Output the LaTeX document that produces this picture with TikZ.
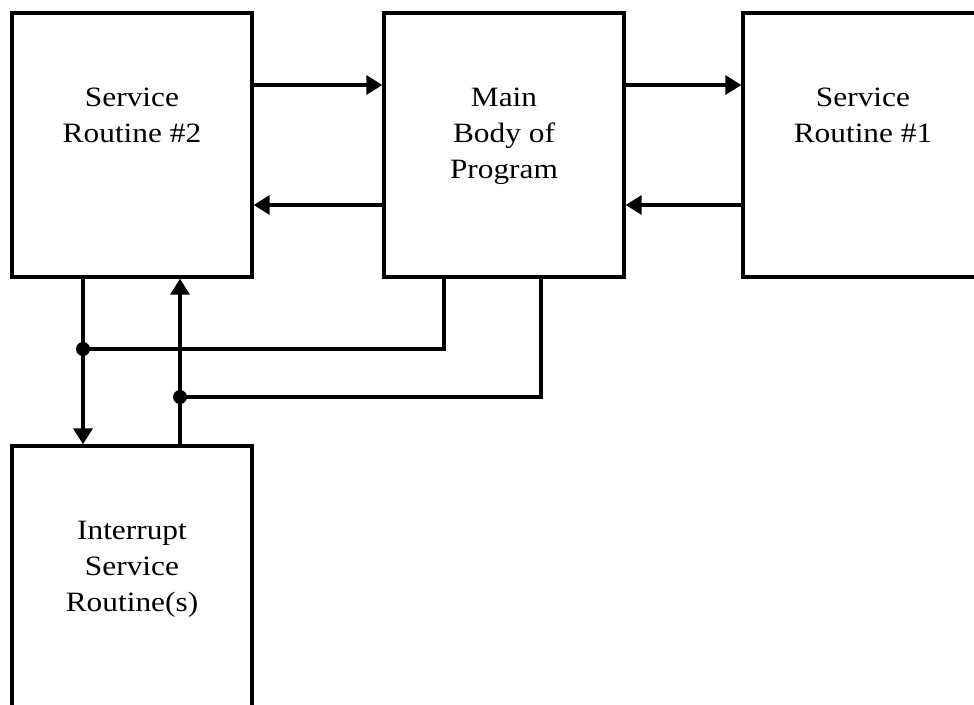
\documentclass[tikz,border=0pt]{standalone}
\usepackage{fontspec}
\setmainfont{Liberation Serif}[FakeStretch=1.12]
\usetikzlibrary{arrows.meta,calc}
\newcommand{\boxtext}[1]{\parbox[c][264pt][t]{240pt}{\centering\vspace*{75pt}#1\par}}
\begin{document}
\begin{tikzpicture}[x=1pt,y=1pt,
  box/.style={draw, line width=3.3pt, rectangle, inner sep=0pt,
    minimum width=240pt, minimum height=264pt,
    font=\fontsize{28}{36}\selectfont},
  conn/.style={line width=3.3pt},
  arr/.style={conn, -{Triangle[length=16pt,width=19pt]}},
  dot/.style={fill=black}]
\useasboundingbox (0,0) rectangle (974,-704);
\node[box] (sr2) at (132,-145) {\boxtext{Service\\Routine \#2}};
\node[box] (main) at (504,-145) {\boxtext{Main\\Body of\\Program}};
\node[box] (sr1) at (863,-145) {\boxtext{Service\\Routine \#1}};
\node[box] (isr) at (132,-578) {\boxtext{Interrupt\\Service\\Routine(s)}};
% horizontal arrows
\draw[arr] ([yshift=60pt]sr2.east) -- ([yshift=60pt]main.west);
\draw[arr] ([yshift=60pt]main.east) -- ([yshift=60pt]sr1.west);
\draw[arr] ([yshift=-60pt]sr1.west) -- ([yshift=-60pt]main.east);
\draw[arr] ([yshift=-60pt]main.west) -- ([yshift=-60pt]sr2.east);
% junctions
\coordinate (d1) at (83,-349);
\coordinate (d2) at (180,-397);
\draw[arr] (sr2.south -| d1) -- (isr.north -| d1);
\draw[arr] (isr.north -| d2) -- (sr2.south -| d2);
\draw[conn] ([xshift=-60pt]main.south) |- (d1);
\draw[conn] ([xshift=37pt]main.south) |- (d2);
\fill[dot] (d1) circle (7pt);
\fill[dot] (d2) circle (7pt);
\end{tikzpicture}
\end{document}
